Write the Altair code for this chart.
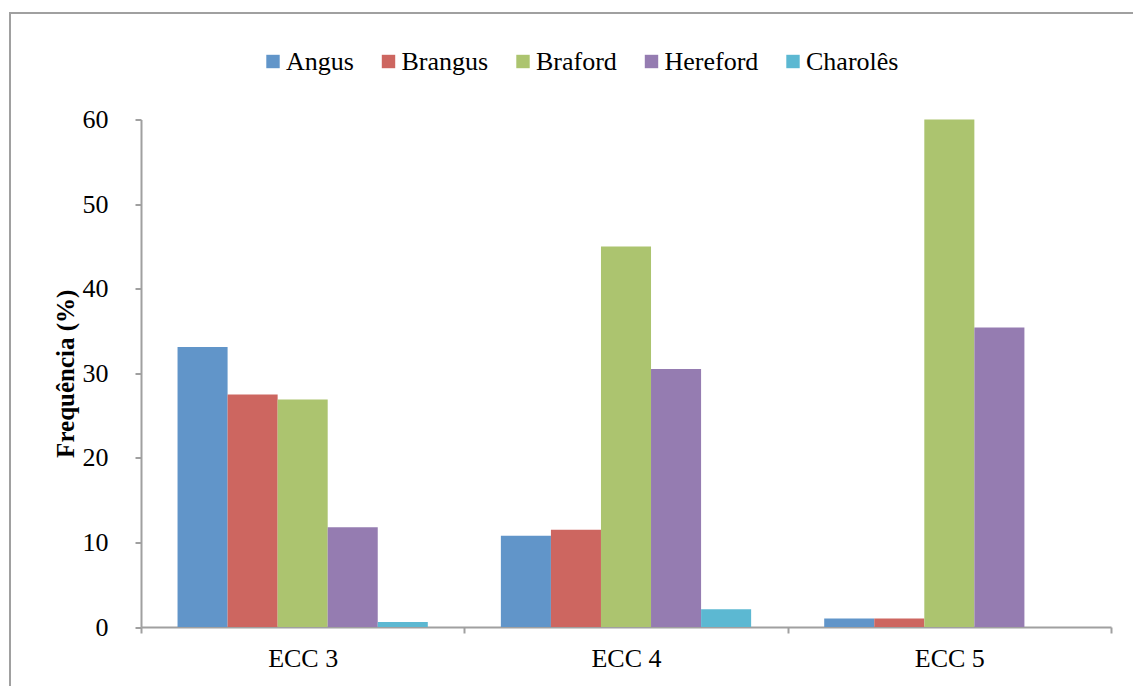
import altair as alt
import pandas as pd

# Frequency (%) of each breed within body condition score classes
ecc_classes = ["ECC 3", "ECC 4", "ECC 5"]
breeds = ["Angus", "Brangus", "Braford", "Hereford", "Charolês"]
colors = ["#6195C9", "#CD6660", "#ACC46F", "#957CB1", "#5CB8D2"]

angus = [33.1, 10.8, 1.0]
brangus = [27.5, 11.5, 1.0]
braford = [26.9, 45.0, 60.0]
hereford = [11.8, 30.5, 35.4]
charoles = [0.6, 2.1, 0.0]

series = [angus, brangus, braford, hereford, charoles]
rows = []
for breed, values in zip(breeds, series):
    for ecc, v in zip(ecc_classes, values):
        rows.append({"ecc": ecc, "breed": breed, "freq": v})
df = pd.DataFrame(rows)

FONT = "Liberation Serif"
AXIS_GRAY = "#A0A0A0"

W, H = 970, 507.5
LEFT, TOP = 141, 119.5

bars = alt.Chart(df).mark_bar(strokeWidth=0).encode(
    x=alt.X(
        "ecc:N",
        sort=ecc_classes,
        title=None,
        scale=alt.Scale(paddingInner=0, paddingOuter=0),
        axis=alt.Axis(
            tickBand="extent",
            labelAngle=0,
            labelFont=FONT,
            labelFontSize=26,
            labelColor="#000000",
            labelPadding=12,
            domainColor=AXIS_GRAY,
            domainWidth=2,
            tickColor=AXIS_GRAY,
            tickWidth=2,
            tickSize=6,
        ),
    ),
    xOffset=alt.XOffset(
        "breed:N",
        sort=breeds,
        scale=alt.Scale(paddingInner=0, paddingOuter=0.73),
    ),
    y=alt.Y(
        "freq:Q",
        title="Frequência (%)",
        scale=alt.Scale(domain=[0, 60], nice=False),
        axis=alt.Axis(
            values=[0, 10, 20, 30, 40, 50, 60],
            grid=False,
            labelFont=FONT,
            labelFontSize=26,
            labelColor="#000000",
            labelPadding=27,
            domainColor=AXIS_GRAY,
            domainWidth=2,
            tickColor=AXIS_GRAY,
            tickWidth=2,
            tickSize=6,
            titleFont=FONT,
            titleFontSize=25,
            titleFontWeight="bold",
            titleColor="#000000",
            titlePadding=4,
        ),
    ),
    color=alt.Color(
        "breed:N",
        sort=breeds,
        scale=alt.Scale(domain=breeds, range=colors),
        legend=alt.Legend(
            title=None,
            orient="none",
            direction="horizontal",
            legendX=119,
            legendY=-71,
            symbolType="square",
            symbolSize=180,
            symbolStrokeWidth=0,
            labelFont=FONT,
            labelFontSize=26,
            labelColor="#000000",
            labelOffset=0,
            columnPadding=21.5,
        ),
    ),
)

# Outer frame of the chart area
frame = alt.Chart(pd.DataFrame({"k": [0]})).mark_rect(
    fill=None, stroke=AXIS_GRAY, strokeWidth=2
).encode(
    x=alt.value(10 - LEFT),
    x2=alt.value(1160 - LEFT),
    y=alt.value(13 - TOP),
    y2=alt.value(720 - TOP),
)

chart = alt.layer(frame, bars).properties(
    width=W,
    height=H,
    padding={"left": LEFT, "top": TOP, "right": 1133 - LEFT - W, "bottom": 686 - TOP - H},
    autosize=alt.AutoSizeParams(type="none"),
    background="white",
).configure_view(stroke=None)

chart.save("out.html", embed_options={"renderer": "svg", "actions": False})
